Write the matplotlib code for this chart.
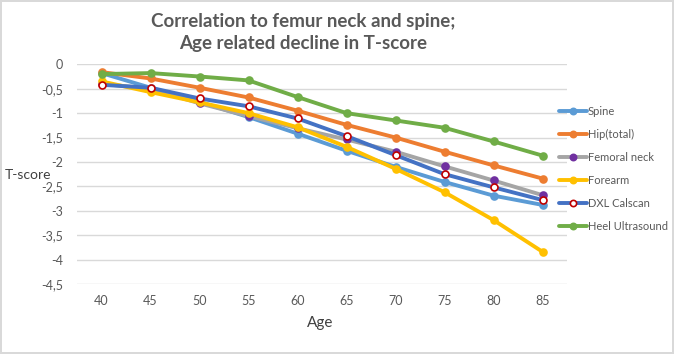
import matplotlib
matplotlib.use("Agg")
import matplotlib.pyplot as plt
from matplotlib.ticker import FuncFormatter

plt.rcParams['font.family'] = ['Lato', 'DejaVu Sans']

ages = ["40", "45", "50", "55", "60", "65", "70", "75", "80", "85"]
spine = [-0.18, -0.48, -0.77, -1.08, -1.42, -1.77, -2.10, -2.41, -2.69, -2.88]
hip_total = [-0.16, -0.29, -0.48, -0.68, -0.95, -1.24, -1.50, -1.79, -2.07, -2.34]
femoral_neck = [-0.40, -0.50, -0.80, -1.06, -1.31, -1.54, -1.79, -2.09, -2.38, -2.68]
forearm = [-0.35, -0.57, -0.78, -1.00, -1.29, -1.69, -2.14, -2.62, -3.19, -3.84]
dxl_calscan = [-0.42, -0.48, -0.70, -0.86, -1.11, -1.47, -1.86, -2.25, -2.52, -2.78]
heel_ultrasound = [-0.20, -0.18, -0.25, -0.33, -0.67, -1.00, -1.15, -1.30, -1.58, -1.87]
yticks = [0, -0.5, -1, -1.5, -2, -2.5, -3, -3.5, -4, -4.5]

fig = plt.figure(figsize=(6.74, 3.54), dpi=100)
fig.patch.set_facecolor('white')
fig.patch.set_edgecolor('#D9D9D9')
fig.patch.set_linewidth(1.5)

ax = fig.add_axes([77/674, 1-284/354, (567-77)/674, (284-64.3)/354])
x = list(range(len(ages)))

series = [
    ("Spine", spine, '#5B9BD5', '#5B9BD5', '#5B9BD5'),
    ("Hip(total)", hip_total, '#ED7D31', '#ED7D31', '#ED7D31'),
    ("Femoral neck", femoral_neck, '#A5A5A5', '#7030A0', '#7030A0'),
    ("Forearm", forearm, '#FFC000', '#FFC000', '#FFC000'),
    ("DXL Calscan", dxl_calscan, '#4472C4', 'white', '#C00000'),
    ("Heel Ultrasound", heel_ultrasound, '#70AD47', '#70AD47', '#70AD47'),
]
for name, vals, lc, mfc, mec in series:
    ax.plot(x, vals, color=lc, lw=2.8, marker='o', markersize=5,
            markerfacecolor=mfc, markeredgecolor=mec, markeredgewidth=1.2,
            label=name, solid_capstyle='round')

ax.set_xlim(-0.5, len(ages) - 0.5)
ax.set_ylim(-4.5, 0)
ax.set_xticks(x)
ax.set_xticklabels(ages)
ax.set_yticks(yticks)
ax.yaxis.set_major_formatter(FuncFormatter(lambda v, p: ('%g' % v).replace('.', ',')))
ax.grid(axis='y', color='#D9D9D9', lw=1)
ax.set_axisbelow(True)
for s in ax.spines.values():
    s.set_visible(False)
ax.tick_params(axis='both', length=0, colors='#595959', labelsize=9)
ax.tick_params(axis='x', pad=8)
ax.tick_params(axis='y', pad=10)

fig.text(303/674, 1-21/354, "Correlation to femur neck and spine;", ha='center', va='center',
         fontsize=13.5, fontweight='bold', color='#595959')
fig.text(303/674, 1-43/354, "Age related decline in T-score", ha='center', va='center',
         fontsize=13.5, fontweight='bold', color='#595959')
fig.text(5/674, 1-175/354, "T-score", ha='left', va='center', fontsize=10, color='#404040')
fig.text(320/674, 1-323/354, "Age", ha='center', va='center', fontsize=11, color='#404040')

leg = ax.legend(loc='upper left', bbox_to_anchor=(559/674, 1-106/354), bbox_transform=fig.transFigure,
                frameon=False, fontsize=8, handlelength=2.5, handletextpad=0.1,
                labelspacing=1.08, borderpad=0, borderaxespad=0, markerscale=0.9)
for t in leg.get_texts():
    t.set_color('#595959')

fig.savefig("out.png", dpi=100)
